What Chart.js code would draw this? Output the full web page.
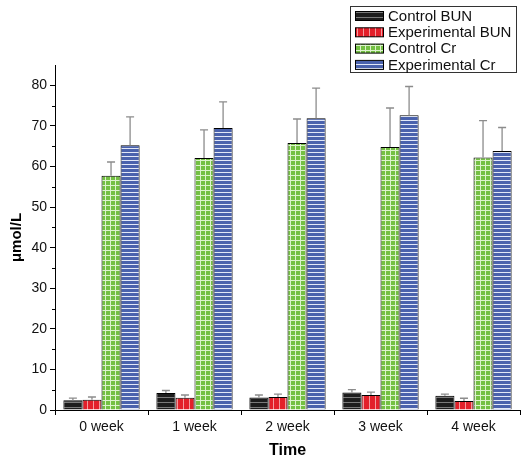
<!DOCTYPE html>
<html>
<head>
<meta charset="utf-8">
<script src="https://cdn.jsdelivr.net/npm/chart.js@4.4.0/dist/chart.umd.min.js"></script>
<style>
  html, body { margin: 0; padding: 0; background: #fff; }
</style>
</head>
<body>
<canvas id="myChart" width="527" height="462"></canvas>
<script>
// data
const categories = ['0 week', '1 week', '2 week', '3 week', '4 week'];
const seriesNames = ['Control BUN', 'Experimental BUN', 'Control Cr', 'Experimental Cr'];
const controlBun = [2.4, 4.2, 3.1, 4.3, 3.5];
const controlBunErr = [0.55, 0.6, 0.6, 0.7, 0.4];
const expBun = [2.5, 3.0, 3.2, 3.7, 2.2];
const expBunErr = [0.7, 0.7, 0.7, 0.7, 0.7];
const controlCr = [57.7, 62.1, 65.8, 64.8, 62.2];
const controlCrErr = [3.4, 6.9, 5.9, 9.6, 9.1];
const expCr = [65.2, 69.5, 71.9, 72.6, 63.8];
const expCrErr = [7.0, 6.4, 7.4, 7.1, 5.8];
const yTicks = [0, 10, 20, 30, 40, 50, 60, 70, 80];
const yMinorTicks = [5, 15, 25, 35, 45, 55, 65, 75];

// fill patterns like the original plot
function makePattern(base, line, kind) {
  const c = document.createElement('canvas');
  const w = kind === 'vert' ? 6 : (kind === 'grid' ? 5 : 4);
  const h = kind === 'hline5' ? 5 : (kind === 'grid' ? 5 : 4);
  c.width = w; c.height = h;
  const g = c.getContext('2d');
  g.fillStyle = base;
  g.fillRect(0, 0, w, h);
  g.fillStyle = line;
  if (kind === 'hline5') g.fillRect(0, 2, w, 1);
  if (kind === 'vert') g.fillRect(3, 0, 1, h);
  if (kind === 'grid') { g.fillRect(0, 0, w, 1); g.fillRect(0, 0, 1, h); }
  if (kind === 'hline') g.fillRect(0, 0, w, 1);
  return g.createPattern(c, 'repeat');
}

const fills = [
  makePattern('#1d1d1d', '#7a7a7a', 'hline5'),
  makePattern('#e3202a', '#f29a9e', 'vert'),
  makePattern('#74c043', '#dcf3cc', 'grid'),
  makePattern('#4a62ad', '#e2e8f7', 'hline')
];
const values = [controlBun, expBun, controlCr, expCr];
const errors = [controlBunErr, expBunErr, controlCrErr, expCrErr];

// error bars (upper only) drawn through the y scale
const errorBars = {
  id: 'errorBars',
  afterDatasetsDraw(chart) {
    const ctx = chart.ctx;
    const y = chart.scales.y;
    ctx.save();
    ctx.strokeStyle = '#8c8c8c';
    ctx.lineWidth = 1.3;
    chart.data.datasets.forEach((ds, i) => {
      const meta = chart.getDatasetMeta(i);
      meta.data.forEach((bar, j) => {
        const top = y.getPixelForValue(ds.data[j] + errors[i][j]);
        ctx.beginPath();
        ctx.moveTo(bar.x, bar.y);
        ctx.lineTo(bar.x, top);
        ctx.moveTo(bar.x - 4, top);
        ctx.lineTo(bar.x + 4, top);
        ctx.stroke();
      });
    });
    ctx.restore();
  }
};

// minor ticks on the y axis
const minorTicks = {
  id: 'minorTicks',
  afterDraw(chart) {
    const ctx = chart.ctx;
    const y = chart.scales.y;
    const x0 = chart.chartArea.left;
    ctx.save();
    ctx.strokeStyle = '#000';
    ctx.lineWidth = 1;
    yMinorTicks.forEach(v => {
      const py = Math.round(y.getPixelForValue(v)) + 0.5;
      ctx.beginPath();
      ctx.moveTo(x0 - 3, py);
      ctx.lineTo(x0, py);
      ctx.stroke();
    });
    ctx.restore();
  }
};

// boxed legend in the top right corner
const boxLegend = {
  id: 'boxLegend',
  afterDraw(chart) {
    const ctx = chart.ctx;
    ctx.save();
    ctx.fillStyle = '#fff';
    ctx.fillRect(350, 6, 166, 66);
    ctx.strokeStyle = '#333';
    ctx.lineWidth = 1;
    ctx.strokeRect(350.5, 6.5, 166, 66);
    ctx.font = '15px "Liberation Sans", Arial, sans-serif';
    ctx.textBaseline = 'middle';
    chart.data.datasets.forEach((ds, i) => {
      const cy = 16 + i * 16.3;
      ctx.fillStyle = ds.backgroundColor;
      ctx.fillRect(355, cy - 4.5, 28, 9);
      ctx.strokeStyle = '#000';
      ctx.strokeRect(355.5, cy - 4.5, 28, 9);
      ctx.fillStyle = '#111';
      ctx.fillText(ds.label, 388, cy + 0.5);
    });
    ctx.restore();
  }
};

const ctx = document.getElementById('myChart').getContext('2d');
const myChart = new Chart(ctx, {
  type: 'bar',
  data: {
    labels: categories,
    datasets: seriesNames.map((name, i) => ({
      label: name,
      data: values[i],
      backgroundColor: fills[i],
      borderColor: '#000',
      borderWidth: 1,
      categoryPercentage: 0.82,
      barPercentage: 1
    }))
  },
  options: {
    responsive: false,
    animation: false,
    layout: { padding: { left: 0, right: 7, top: 65, bottom: 0 } },
    plugins: {
      legend: { display: false },
      tooltip: { enabled: false },
      title: { display: false }
    },
    scales: {
      x: {
        afterFit: scale => { scale.height = 52; },
        grid: { offset: true, drawOnChartArea: false, tickLength: 5, color: '#000' },
        border: { color: '#000', width: 1 },
        ticks: { color: '#111', padding: 4, font: { family: '"Liberation Sans", Arial', size: 14 } },
        title: {
          display: true,
          text: 'Time',
          color: '#000',
          padding: { top: 0, bottom: 2 },
          font: { family: '"Liberation Sans", Arial', size: 16, weight: 'bold' }
        }
      },
      y: {
        min: 0,
        max: 85,
        afterFit: scale => { scale.width = 55; },
        afterBuildTicks: scale => { scale.ticks = yTicks.map(v => ({ value: v })); },
        grid: { drawOnChartArea: false, tickLength: 5, color: '#000' },
        border: { color: '#000', width: 1 },
        ticks: { color: '#111', padding: 3, font: { family: '"Liberation Sans", Arial', size: 14 } },
        title: {
          display: true,
          text: 'μmol/L',
          color: '#000',
          padding: { top: 8, bottom: 0 },
          font: { family: '"Liberation Sans", Arial', size: 15, weight: 'bold' }
        }
      }
    }
  },
  plugins: [errorBars, minorTicks, boxLegend]
});
</script>
</body>
</html>
